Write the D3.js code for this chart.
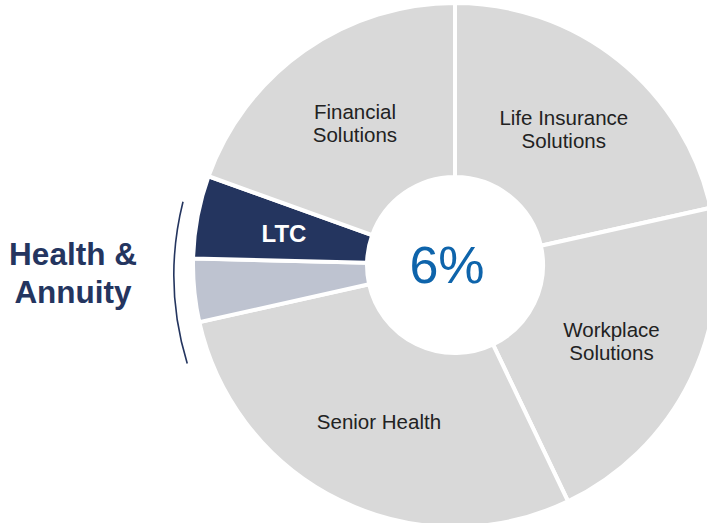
<!DOCTYPE html>
<html>
<head>
<meta charset="utf-8">
<script src="https://cdn.jsdelivr.net/npm/d3@7"></script>
<style>
  body { margin: 0; background: #fff; }
  svg { display: block; font-family: 'Liberation Sans', Arial, sans-serif; }
</style>
</head>
<body>
<svg id="board" width="707" height="523"></svg>
<script>
// segments, clockwise from 12 o'clock
var categories = ['Life Insurance Solutions', 'Workplace Solutions', 'Senior Health', 'Annuity', 'LTC', 'Financial Solutions'];
var shares = [21.5, 21.4, 28.6, 3.9, 5.1, 19.5];
var labelLines = [['Life Insurance', 'Solutions'], ['Workplace', 'Solutions'], ['Senior Health'], [], ['LTC'], ['Financial', 'Solutions']];
var groupLines = ['Health &', 'Annuity'];
var centerText = '6%';

const cx = 455;
const cy = 265;
const outerR = 262;
const innerR = 88;
const labelR = 174;
const lineHeight = 23;

var fills = {
  'LTC': '#24355f',
  'Annuity': '#bec3d0'
};

var svg = d3.select('#board');

var slices = d3
  .pie()
  .sort(null)
  .value(function (d) { return d.share; })(
    categories.map(function (c, i) {
      return { name: c, share: shares[i], lines: labelLines[i] };
    })
  );

var arc = d3.arc().innerRadius(innerR).outerRadius(outerR);
var labelArc = d3.arc().innerRadius(labelR).outerRadius(labelR);

var pie = svg.append('g').attr('transform', 'translate(' + cx + ',' + cy + ')');

pie
  .selectAll('path.slice')
  .data(slices)
  .enter()
  .append('path')
  .classed('slice', true)
  .attr('d', arc)
  .attr('fill', function (d) { return fills[d.data.name] || '#d9d9d9'; })
  .attr('stroke', '#fff')
  .attr('stroke-width', 4)
  .attr('stroke-linejoin', 'miter');

var labels = pie
  .selectAll('text.label')
  .data(slices)
  .enter()
  .append('text')
  .classed('label', true)
  .attr('text-anchor', 'middle')
  .attr('transform', function (d) { return 'translate(' + labelArc.centroid(d) + ')'; })
  .attr('fill', function (d) { return d.data.name === 'LTC' ? '#fff' : '#222'; })
  .attr('font-weight', function (d) { return d.data.name === 'LTC' ? 'bold' : 'normal'; })
  .attr('font-size', function (d) { return d.data.name === 'LTC' ? 24 : 20.5; });

labels
  .selectAll('tspan')
  .data(function (d) {
    return d.data.lines.map(function (l, i) { return { text: l, i: i, n: d.data.lines.length }; });
  })
  .enter()
  .append('tspan')
  .attr('x', 0)
  .attr('y', function (t) { return (t.i - (t.n - 1) / 2) * lineHeight; })
  .attr('dy', '0.36em')
  .text(function (t) { return t.text; });

// white hole + headline number
pie.append('circle').attr('r', innerR - 1).attr('fill', '#fff');
pie
  .append('text')
  .attr('x', -8)
  .attr('y', 18)
  .attr('text-anchor', 'middle')
  .attr('font-size', 52)
  .attr('fill', '#0e64ab')
  .text(centerText);

// bracket around the Health & Annuity slices
var bracket = d3.path();
var toRad = Math.PI / 180;
bracket.arc(477, 275, 303, 163 * toRad, 194 * toRad, false);
svg
  .append('path')
  .attr('d', bracket.toString())
  .attr('fill', 'none')
  .attr('stroke', '#24355f')
  .attr('stroke-width', 1.6);

svg
  .append('text')
  .attr('text-anchor', 'middle')
  .attr('font-weight', 'bold')
  .attr('font-size', 31.5)
  .attr('fill', '#24355f')
  .selectAll('tspan')
  .data(groupLines)
  .enter()
  .append('tspan')
  .attr('x', 73)
  .attr('y', function (l, i) { return 265 + i * 38; })
  .text(function (l) { return l; });
</script>
</body>
</html>
